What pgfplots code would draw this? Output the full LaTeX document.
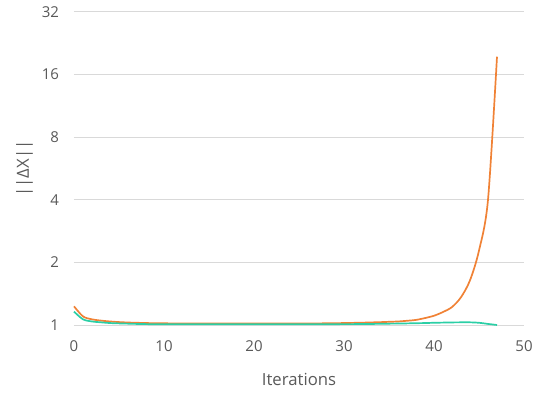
\documentclass[border=0pt]{standalone}
\usepackage{fontspec}
\setmainfont{Open Sans}
\usepackage{pgfplots}
\pgfplotsset{compat=1.18}
\usepackage{pgfplotstable}

\definecolor{seriesA}{HTML}{F08236}
\definecolor{seriesB}{HTML}{2BCFA6}
\definecolor{gridgray}{HTML}{D9D9D9}
\definecolor{textgray}{HTML}{595959}

% iteration, norm of the update step
\pgfplotstableread{
x y
0 1.23
1 1.10
2 1.065
3 1.05
4 1.04
5 1.033
6 1.028
7 1.025
8 1.022
9 1.020
10 1.019
11 1.018
12 1.018
13 1.018
14 1.018
15 1.018
16 1.018
17 1.018
18 1.018
19 1.018
20 1.018
21 1.018
22 1.018
23 1.018
24 1.018
25 1.018
26 1.018
27 1.018
28 1.019
29 1.020
30 1.022
31 1.024
32 1.026
33 1.029
34 1.032
35 1.036
36 1.040
37 1.048
38 1.058
39 1.080
40 1.108
41 1.155
42 1.220
43 1.360
44 1.640
45 2.280
46 4.000
47 19.50
}\divergent

\pgfplotstableread{
x y
0 1.16
1 1.065
2 1.040
3 1.030
4 1.022
5 1.018
6 1.015
7 1.012
8 1.010
9 1.008
10 1.008
11 1.008
12 1.008
13 1.008
14 1.008
15 1.008
16 1.008
17 1.008
18 1.008
19 1.008
20 1.008
21 1.008
22 1.008
23 1.008
24 1.008
25 1.008
26 1.008
27 1.008
28 1.009
29 1.009
30 1.010
31 1.010
32 1.011
33 1.012
34 1.013
35 1.015
36 1.016
37 1.018
38 1.020
39 1.022
40 1.025
41 1.027
42 1.029
43 1.030
44 1.030
45 1.025
46 1.012
47 1.000
}\convergent

\begin{document}
\begin{tikzpicture}
\path[use as bounding box] (-74pt,-67pt) rectangle (464pt,325pt);
\begin{axis}[
  scale only axis,
  width=450pt, height=313pt,
  xmin=0, xmax=50,
  ymin=1, ymax=32,
  ymode=log, log basis y=2,
  xtick={0,10,...,50},
  ytick={1,2,4,8,16,32},
  yticklabels={1,2,4,8,16,32},
  /pgf/number format/assume math mode=true,
  axis line style={draw=none},
  major tick length=0pt,
  ymajorgrids,
  grid style={gridgray, line width=1pt},
  ticklabel style={font=\fontsize{15}{18}\selectfont, text=textgray},
  xticklabel style={anchor=north, yshift=-12pt},
  yticklabel style={anchor=east, xshift=-11.5pt},
  xlabel={Iterations},
  ylabel={||ΔX||},
  label style={font=\fontsize{16.7}{20}\selectfont, text=textgray},
  xlabel style={at={([yshift=-60pt]axis description cs:0.5,0)}, anchor=base},
  ylabel style={at={([xshift=-45pt]axis description cs:0,0.5)}, anchor=base},
  clip=false,
]
\addplot[seriesA, line width=1.7pt, smooth, tension=0.5] table[x=x, y=y] {\divergent};
\addplot[seriesB, line width=1.7pt, smooth, tension=0.5] table[x=x, y=y] {\convergent};
\end{axis}
\end{tikzpicture}
\end{document}
